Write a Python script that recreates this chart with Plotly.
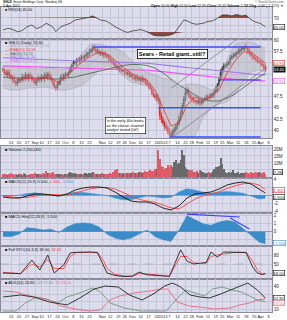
import numpy as np
import pandas as pd
import plotly.graph_objects as go
from plotly.subplots import make_subplots

FONT = "Liberation Sans, Arial, sans-serif"

# ---------------- calendar ----------------
HOLIDAYS = ['2012-09-03', '2012-10-29', '2012-10-30', '2012-11-22', '2012-12-25',
            '2013-01-01', '2013-01-21', '2013-02-18', '2013-03-29']
all_days = [d.strftime('%Y-%m-%d') for d in pd.bdate_range('2012-08-06', '2013-04-12')
            if d.strftime('%Y-%m-%d') not in HOLIDAYS]
pos = {d: i for i, d in enumerate(all_days)}

tick_dates = ['2012-08-13', '2012-08-20', '2012-08-27', '2012-09-04', '2012-09-10', '2012-09-17',
              '2012-09-24', '2012-10-01', '2012-10-08', '2012-10-15', '2012-10-22', '2012-11-05',
              '2012-11-12', '2012-11-19', '2012-11-26', '2012-12-03', '2012-12-10', '2012-12-17',
              '2012-12-24', '2012-12-31', '2013-01-07', '2013-01-14', '2013-01-22', '2013-01-28',
              '2013-02-04', '2013-02-11', '2013-02-19', '2013-02-25', '2013-03-04', '2013-03-11',
              '2013-03-18', '2013-03-25', '2013-04-01', '2013-04-08']
tick_labels = ['13', '20', '27', 'Sep', '10', '17', '24', 'Oct', '8', '15', '22', 'Nov', '12', '19',
               '26', 'Dec', '10', '17', '24', '2013', '7', '14', '22', '28', 'Feb', '11', '19', '25',
               'Mar', '11', '18', '25', 'Apr', '8']

# ---------------- daily price data ----------------
first_open = 53.6
closes = [53.4, 52.8, 52.3, 53.0, 52.2, 51.5, 51.4, 50.7, 50.4, 50.9,
          51.3, 51.1, 51.8, 51.5, 52.3, 51.6, 52.2, 52.0, 51.3, 51.0,
          50.5, 51.1, 51.5, 51.2, 51.9, 51.5, 52.3, 51.7, 52.5, 52.0,
          51.2, 50.6, 49.7, 49.5, 50.3, 50.9, 51.8, 51.5, 52.2, 52.4,
          52.3, 52.9, 53.6, 54.4, 55.0, 55.1, 55.5, 55.4, 55.9, 56.2,
          56.1, 56.5, 56.8, 57.0, 57.5, 57.9, 58.3, 57.9, 57.5, 57.6,
          57.1, 57.3, 56.8, 57.0, 56.6, 56.4, 55.9, 55.6, 55.2, 54.9,
          54.3, 54.1, 53.6, 53.7, 53.2, 53.3, 52.8, 52.6, 52.7, 52.1,
          52.2, 51.7, 51.5, 51.8, 51.3, 51.5, 51.0, 51.4, 51.1, 50.6,
          50.2, 49.8, 49.3, 48.5, 47.9, 47.3, 47.4, 46.6, 43.2, 42.4,
          41.6, 41.0, 40.6, 39.9, 39.3, 38.7, 39.6, 40.2, 40.8, 41.5,
          42.5, 43.8, 45.4, 46.9, 48.4, 48.9, 47.9, 47.3, 47.0, 46.6,
          46.4, 46.2, 46.6, 46.0, 46.3, 46.7, 46.9, 47.1, 47.5, 47.4,
          47.9, 48.0, 48.6, 49.0, 50.1, 51.3, 52.9, 53.7, 54.3, 54.4,
          54.8, 55.1, 56.0, 56.4, 56.6, 57.0, 57.1, 57.5, 57.8, 58.1,
          58.2, 58.6, 58.3, 57.6, 57.2, 56.6, 56.4, 56.0, 55.8, 55.3,
          55.3, 54.8, 54.5, 54.0, 53.4]
highs = [54.1, 53.7, 53.5, 53.4, 53.6, 52.5, 52.0, 52.2, 51.1, 51.5,
         51.8, 51.6, 52.5, 52.2, 52.9, 52.6, 52.7, 53.0, 52.4, 51.9,
         51.5, 51.4, 52.2, 51.9, 52.5, 52.2, 52.8, 53.1, 52.9, 53.1,
         52.5, 51.5, 51.3, 50.1, 50.9, 51.2, 52.3, 52.6, 52.6, 53.0,
         52.9, 53.2, 54.3, 54.8, 55.6, 55.4, 56.0, 56.2, 56.3, 56.8,
         56.7, 56.8, 57.5, 57.4, 58.1, 58.2, 58.8, 59.1, 58.3, 58.2,
         58.1, 57.6, 58.0, 57.4, 57.6, 56.9, 56.9, 56.7, 56.0, 55.8,
         55.4, 54.6, 54.8, 54.1, 54.3, 53.6, 53.8, 53.6, 53.1, 53.3,
         52.7, 52.5, 52.4, 52.2, 52.4, 51.8, 52.0, 52.2, 51.8, 51.7,
         51.1, 50.5, 50.5, 49.7, 49.1, 48.2, 48.2, 48.1, 47.2, 44.0,
         43.1, 42.2, 41.8, 41.2, 40.6, 39.9, 40.3, 40.8, 41.5, 42.1,
         43.2, 44.4, 46.1, 47.6, 49.2, 49.6, 49.3, 48.4, 47.8, 47.5,
         47.1, 46.8, 47.2, 47.0, 46.9, 47.0, 47.4, 47.9, 47.9, 48.1,
         48.4, 48.3, 49.1, 49.8, 50.5, 51.9, 53.6, 54.2, 54.9, 54.8,
         55.3, 55.4, 56.7, 56.8, 57.2, 57.3, 57.6, 58.3, 58.2, 58.7,
         58.7, 58.9, 59.3, 58.7, 58.2, 57.5, 57.1, 56.9, 56.4, 56.4,
         55.8, 55.6, 55.5, 54.9, 54.6]
lows = [53.0, 52.2, 52.0, 51.6, 51.7, 51.1, 50.6, 50.4, 49.8, 49.9,
        50.5, 50.5, 50.8, 50.8, 51.0, 51.2, 50.8, 51.7, 50.7, 50.5,
        50.1, 49.9, 50.8, 50.5, 50.7, 51.1, 50.7, 51.4, 51.1, 51.5,
        50.8, 50.0, 49.4, 48.8, 49.0, 49.9, 50.1, 51.2, 50.9, 51.7,
        51.9, 51.7, 52.6, 52.9, 53.9, 54.6, 54.3, 55.1, 54.8, 55.4,
        55.7, 55.5, 56.2, 56.1, 56.5, 57.1, 57.1, 57.6, 56.9, 57.0,
        56.7, 56.5, 56.5, 56.1, 56.1, 56.0, 55.1, 55.3, 54.6, 54.4,
        53.9, 53.5, 53.3, 52.9, 52.7, 52.9, 52.0, 52.3, 52.0, 51.6,
        51.7, 51.1, 51.2, 50.8, 50.8, 50.9, 50.2, 50.7, 50.5, 50.1,
        49.8, 49.2, 49.0, 47.8, 47.4, 46.9, 46.5, 46.0, 42.3, 41.6,
        41.0, 40.2, 39.9, 39.2, 38.7, 38.4, 38.4, 39.0, 39.6, 40.2,
        41.0, 42.0, 43.3, 44.9, 46.4, 47.8, 47.2, 46.8, 46.4, 46.1,
        45.9, 45.6, 45.8, 45.4, 45.5, 45.8, 46.3, 46.6, 46.4, 46.9,
        47.0, 47.3, 47.2, 48.3, 48.4, 49.6, 50.8, 52.2, 53.2, 53.8,
        53.8, 54.4, 54.4, 55.7, 55.9, 56.2, 56.2, 56.8, 56.9, 57.3,
        57.7, 57.6, 58.0, 56.9, 56.7, 56.2, 55.6, 55.7, 55.2, 54.8,
        54.9, 54.2, 54.2, 53.3, 52.9]
volumes_m = [2.1, 1.8, 2.5, 1.6, 1.9, 2.8, 2.2, 1.7, 2.0, 1.5,
             1.8, 2.3, 1.6, 2.9, 2.0, 1.7, 1.5, 2.2, 1.9, 2.4,
             2.6, 2.0, 1.8, 2.2, 1.7, 3.1, 2.5, 4.2, 3.0, 2.2,
             2.8, 3.3, 2.5, 2.1, 1.9, 2.3, 1.8, 2.0, 1.7, 2.2,
             2.4, 2.9, 3.5, 2.6, 2.2, 2.8, 2.1, 2.5, 1.9, 2.3,
             2.2, 2.6, 3.0, 2.4, 2.8, 3.2, 3.6, 2.9, 2.5, 2.1,
             2.3, 2.0, 2.6, 2.2, 2.4, 1.9, 2.5, 2.8, 2.2, 3.4,
             4.8, 5.6, 3.2, 2.9, 2.5, 3.0, 2.4, 2.7, 3.1, 2.6,
             2.8, 3.5, 2.9, 3.2, 2.6, 3.8, 3.3, 2.9, 3.6, 4.1,
             3.5, 4.6, 5.2, 4.0, 4.4, 5.5, 6.0, 19.0, 12.5, 8.0,
             7.2, 5.8, 6.5, 8.5, 7.0, 8.6, 7.1, 10.4, 11.8, 9.0,
             10.0, 12.0, 19.5, 15.5, 7.2, 6.0, 5.2, 4.8, 5.0, 3.6,
             3.8, 4.5, 3.2, 5.0, 4.2, 3.3, 2.8, 3.0, 2.6, 3.4,
             2.9, 4.0, 5.5, 6.8, 7.0, 8.0, 13.5, 9.0, 5.6, 3.5,
             3.0, 3.4, 2.8, 3.7, 4.8, 3.1, 2.9, 3.6, 2.5, 2.8,
             3.2, 2.6, 3.8, 3.0, 2.4, 3.3, 2.9, 2.6, 3.4, 2.8,
             3.5, 3.0, 2.7, 3.6, 2.2]

# ---------------- overlay / indicator data (sampled every 5 sessions) ----------------
samp_idx = list(range(0, 165, 5)) + [164]
ema_fast = [52.94, 52.06, 51.17, 51.61, 51.39, 51.61, 51.61, 50.50, 52.06, 53.83,
            55.39, 56.50, 57.39, 56.94, 55.61, 54.06, 52.72, 51.83, 51.17, 48.94,
            44.94, 40.94, 41.61, 45.61, 47.39, 46.72, 47.39, 48.94, 52.72, 55.39,
            57.39, 57.39, 56.06, 54.94]
ma50 = [51.83, 51.61, 51.61, 51.61, 51.61, 51.61, 51.39, 51.39, 51.61, 51.83,
        52.28, 52.72, 53.17, 53.61, 54.06, 54.39, 54.61, 54.61, 54.39, 53.83,
        52.72, 51.39, 50.06, 48.94, 47.83, 46.94, 46.50, 46.50, 47.17, 48.06,
        49.39, 50.72, 51.83, 52.72]
ma200 = [56.1, 56.0, 55.9, 55.85, 55.8, 55.7, 55.6, 55.55, 55.5, 55.4,
         55.35, 55.3, 55.25, 55.2, 55.1, 55.05, 55.0, 54.95, 54.9, 54.75,
         54.55, 54.35, 54.15, 53.95, 53.75, 53.55, 53.35, 53.15, 52.95, 52.8,
         52.65, 52.5, 52.35, 52.3]
ema200 = [54.3, 54.25, 54.2, 54.15, 54.1, 54.0, 53.95, 53.9, 53.85, 53.8,
          53.75, 53.7, 53.65, 53.6, 53.55, 53.5, 53.45, 53.4, 53.35, 53.2,
          53.0, 52.8, 52.6, 52.4, 52.2, 52.0, 51.8, 51.65, 51.5, 51.35,
          51.2, 51.1, 51.0, 50.95]
bb_up = [54.28, 54.06, 53.83, 53.83, 53.61, 53.61, 53.83, 53.39, 53.61, 54.94,
         57.39, 59.17, 59.17, 58.72, 58.28, 57.39, 55.61, 54.06, 52.94, 52.28,
         51.61, 51.17, 49.39, 50.28, 50.28, 49.83, 48.94, 49.83, 55.61, 59.17,
         59.61, 59.61, 58.94, 58.28]
bb_lo = [49.39, 48.94, 48.94, 49.39, 49.39, 49.61, 49.39, 48.94, 48.94, 49.39,
         50.06, 51.61, 53.39, 54.28, 53.83, 52.06, 50.72, 50.28, 49.83, 47.83,
         43.39, 37.5, 37.5, 37.5, 38.72, 42.72, 44.94, 45.83, 46.28, 48.06,
         50.72, 52.94, 53.39, 52.94]
macd = [-0.5, -0.75, -0.75, -0.25, 0.25, 0.25, 0.0, -0.25, 0.25, 1.25,
        1.75, 2.0, 2.0, 1.75, 0.75, -0.5, -1.5, -1.75, -1.75, -2.25,
        -3.25, -3.75, -2.75, -0.75, 0.25, 0.5, 0.75, 1.5, 2.5, 3.0,
        3.25, 2.75, 1.5, 0.5]
macd_sig = [-0.2, -0.5, -0.7, -0.6, -0.3, 0.0, 0.1, 0.0, 0.0, 0.5,
            1.1, 1.6, 1.85, 1.9, 1.5, 0.7, -0.3, -1.1, -1.5, -1.8,
            -2.5, -3.2, -3.5, -2.3, -1.0, -0.2, 0.3, 0.8, 1.6, 2.3,
            2.8, 3.0, 2.5, 1.3]
hist2 = [-0.6, -0.6, -0.3, 0.5, 0.4, 0.2, 0.3, -0.1, 0.6, 1.0,
         1.1, 1.0, 0.6, -0.3, -0.8, -1.0, -0.8, -0.3, 0.2, -0.6,
         -1.0, -1.2, 0.2, 2.0, 1.5, 1.0, 0.8, 1.2, 1.4, 1.2,
         0.4, -0.5, -1.3, -1.5]

rsi_idx = [0, 3, 6, 9, 12, 15, 18, 21, 24, 27, 31, 33, 36, 39, 42, 45, 48, 51, 54, 56,
           59, 61, 64, 67, 70, 73, 76, 78, 81, 86, 90, 94, 98, 102, 105, 107, 111, 113, 115, 118,
           121, 125, 128, 131, 134, 137, 140, 143, 146, 149, 152, 154, 157, 161, 164]
rsi = [35.7, 40.5, 37.6, 30.9, 34.0, 45.0, 50.0, 40.0, 45.0, 55.0, 45.0, 31.0, 45.0, 50.0, 55.0,
       64.0, 66.0, 69.0, 72.0, 76.0, 69.0, 64.0, 62.0, 55.0, 45.0, 37.6, 31.0, 29.0, 33.0, 37.0,
       31.0, 21.0, 18.6, 19.5, 22.0, 26.0, 50.0, 64.0, 62.0, 55.0, 52.0, 55.0, 60.0, 62.0, 69.0,
       78.6, 78.6, 76.0, 80.0, 76.0, 78.0, 69.0, 60.0, 54.0, 45.0]

sto_idx = [0, 11, 18, 23, 28, 32, 38, 42, 46, 54, 59, 63, 65, 70, 76, 81, 85, 90, 98, 104,
           111, 115, 119, 123, 127, 130, 134, 138, 145, 152, 156, 159, 162, 164]
sto_k = [20, 18, 63, 30, 80, 20, 47, 87, 89, 90, 88, 40, 20, 12, 8, 10, 23, 14, 10, 9,
         97, 60, 50, 53, 55, 90, 73, 90, 90, 88, 40, 20, 15, 18]
sto_d = [22, 18, 50, 40, 65, 35, 35, 75, 88, 89, 89, 60, 35, 15, 10, 9, 18, 17, 11, 9,
         75, 75, 55, 51, 53, 75, 80, 83, 89, 89, 60, 30, 17, 16]

adx_idx = [0, 11, 19, 29, 40, 48, 57, 64, 72, 79, 87, 95, 101, 106, 111, 117, 123, 129, 136, 145,
           153, 159, 164]
adx = [26.2, 28.8, 26.2, 19.6, 15.6, 24.8, 36.7, 40.7, 39.4, 28.8, 22.2, 31.5, 40.7, 44.7, 39.4,
       28.8, 26.2, 24.8, 30.1, 38.1, 44.7, 35.4, 24.8]
pdi_idx = [0, 8, 14, 21, 27, 34, 40, 48, 56, 61, 67, 76, 86, 95, 102, 108, 114, 120, 126, 131,
           137, 143, 149, 154, 159, 164]
pdi = [7.6, 7.6, 18.2, 26.2, 23.5, 18.2, 26.2, 31.5, 38.1, 32.8, 18.2, 11.6, 7.6, 7.6, 7.6,
       22.2, 35.4, 31.5, 27.5, 36.7, 39.4, 35.4, 32.8, 27.5, 22.2, 19.6]
mdi_idx = [0, 8, 17, 23, 29, 36, 45, 54, 61, 67, 73, 82, 92, 98, 103, 109, 116, 123, 132, 142,
           148, 154, 159, 164]
mdi = [34.1, 32.8, 27.5, 24.8, 22.2, 14.3, 10.3, 7.6, 9.0, 22.2, 27.5, 31.5, 34.1, 36.7, 36.7,
       19.6, 14.3, 12.9, 10.3, 11.6, 15.6, 18.2, 22.2, 23.5]

# analyst drawings
level_prices = [58.5, 51.2, 45.0, 38.5]
level_start = ['2012-10-24', '2013-02-22', '2012-12-26', '2013-01-07']
level_end = '2013-04-01'
chan_lower = (('2013-01-08', 38.2), ('2013-04-05', 54.1))
chan_upper = (('2013-01-08', 49.3), ('2013-03-26', 63.3))
div_lines = [(('2013-01-23', 2.2), ('2013-03-12', 1.84)), (('2013-03-04', 1.71), ('2013-03-20', 0.34))]

# ---------------- figure ----------------
W, H = 287, 320
ML, MR, MT, MB = 1, 15, 7, 8
PW, PH = W - ML - MR, H - MT - MB


def px(x):
    return (x - ML) / PW


def py(y):
    return 1 - (y - MT) / PH


idx = list(range(len(closes)))
opens = [first_open] + closes[:-1]
up = [c >= o for c, o in zip(closes, opens)]

BG = '#dcdcec'
GRID = '#c5c5d8'
BORDER = '#8a8a9a'

fig = make_subplots(rows=7, cols=1, shared_xaxes=True, vertical_spacing=0)

# RSI panel
rsi_arr = np.array(rsi, dtype=float)
fig.add_trace(go.Scatter(x=rsi_idx, y=[70] * len(rsi_idx), mode='lines', line=dict(width=0),
                         hoverinfo='skip'), row=1, col=1)
fig.add_trace(go.Scatter(x=rsi_idx, y=np.maximum(rsi_arr, 70), mode='lines', line=dict(width=0),
                         fill='tonexty', fillcolor='#8a4a40', hoverinfo='skip'), row=1, col=1)
fig.add_trace(go.Scatter(x=rsi_idx, y=[30] * len(rsi_idx), mode='lines', line=dict(width=0),
                         hoverinfo='skip'), row=1, col=1)
fig.add_trace(go.Scatter(x=rsi_idx, y=np.minimum(rsi_arr, 30), mode='lines', line=dict(width=0),
                         fill='tonexty', fillcolor='#8a4a40', hoverinfo='skip'), row=1, col=1)
fig.add_trace(go.Scatter(x=rsi_idx, y=rsi, mode='lines', line=dict(color='#3a3a3a', width=0.8)),
              row=1, col=1)

# Price panel
fig.add_trace(go.Scatter(x=samp_idx, y=bb_up, mode='lines', line=dict(color='#a8a8b4', width=0.6)),
              row=2, col=1)
fig.add_trace(go.Scatter(x=samp_idx, y=bb_lo, mode='lines', line=dict(color='#a8a8b4', width=0.6),
                         fill='tonexty', fillcolor='rgba(175,178,185,0.45)'), row=2, col=1)
fig.add_trace(go.Scatter(x=samp_idx, y=ma200, mode='lines', line=dict(color='#a078e0', width=1.1)),
              row=2, col=1)
fig.add_trace(go.Scatter(x=samp_idx, y=ema200, mode='lines', line=dict(color='#f050f0', width=1.1)),
              row=2, col=1)
fig.add_trace(go.Scatter(x=samp_idx, y=ma50, mode='lines', line=dict(color='#4a5a4a', width=0.8)),
              row=2, col=1)
for lp, ls in zip(level_prices, level_start):
    fig.add_trace(go.Scatter(x=[pos[ls], pos[level_end]], y=[lp, lp], mode='lines',
                             line=dict(color='#3a4cff', width=1.4)), row=2, col=1)
for ch in (chan_lower, chan_upper):
    fig.add_trace(go.Scatter(x=[pos[ch[0][0]], pos[ch[1][0]]], y=[ch[0][1], ch[1][1]], mode='lines',
                             line=dict(color='#7a7a7a', width=0.7)), row=2, col=1)
fig.add_trace(go.Scatter(x=samp_idx, y=ema_fast, mode='lines', line=dict(color='#e83030', width=0.8)),
              row=2, col=1)
fig.add_trace(go.Candlestick(x=idx, open=opens, high=highs, low=lows, close=closes,
                             increasing=dict(line=dict(color='#202020', width=0.8), fillcolor='#f4f4f4'),
                             decreasing=dict(line=dict(color='#e01818', width=0.8), fillcolor='#e01818'),
                             whiskerwidth=0), row=2, col=1)

# Volume
vcol = ['#6a6a6a' if u else '#e05a68' for u in up]
fig.add_trace(go.Bar(x=idx, y=volumes_m, marker=dict(color=vcol, line=dict(width=0)), width=0.75),
              row=3, col=1)

# MACD
macd_hist = (np.array(macd) - np.array(macd_sig)).tolist()
fig.add_trace(go.Scatter(x=samp_idx, y=macd_hist, mode='lines', line=dict(color='#3f8fd0', width=0.5),
                         fill='tozeroy', fillcolor='#3f8fd0'), row=4, col=1)
fig.add_trace(go.Scatter(x=samp_idx, y=macd_sig, mode='lines', line=dict(color='#ff4040', width=0.9)),
              row=4, col=1)
fig.add_trace(go.Scatter(x=samp_idx, y=macd, mode='lines', line=dict(color='#111111', width=0.9)),
              row=4, col=1)

# Histogram panel
fig.add_trace(go.Scatter(x=samp_idx, y=hist2, mode='lines', line=dict(color='#2f82c2', width=0.5),
                         fill='tozeroy', fillcolor='#3a8cc8'), row=5, col=1)
for (a, b) in div_lines:
    fig.add_trace(go.Scatter(x=[pos[a[0]], pos[b[0]]], y=[a[1], b[1]], mode='lines',
                             line=dict(color='#3a40ff', width=1.1)), row=5, col=1)

# Stochastics
fig.add_trace(go.Scatter(x=sto_idx, y=sto_d, mode='lines', line=dict(color='#ff4a4a', width=0.9)),
              row=6, col=1)
fig.add_trace(go.Scatter(x=sto_idx, y=sto_k, mode='lines', line=dict(color='#222222', width=0.9)),
              row=6, col=1)

# ADX / DMI
fig.add_trace(go.Scatter(x=pdi_idx, y=pdi, mode='lines', line=dict(color='#6a9a78', width=0.9)),
              row=7, col=1)
fig.add_trace(go.Scatter(x=mdi_idx, y=mdi, mode='lines', line=dict(color='#e06a78', width=0.9)),
              row=7, col=1)
fig.add_trace(go.Scatter(x=adx_idx, y=adx, mode='lines', line=dict(color='#222222', width=0.9)),
              row=7, col=1)

# ---------------- axes ----------------
panels_px = [(7, 39), (39, 138), (146, 178), (178, 213), (213, 246), (246, 279), (279, 312)]
y_ranges = [[10, 101.4], [38.28, 60.28], [-0.71, 22.1], [-4.5, 4.25], [-1.79, 2.34], [0, 110], [6.3, 50]]
y_ticks = [([30, 50, 70], ['', '', '70']),
           ([40, 42.5, 45, 47.5, 50, 52.5, 55, 57.5, 60],
            ['40', '42.5', '45', '47.5', '', '', '', '57.5', '60']),
           ([5, 10, 15, 20], ['', '10M', '15M', '20M']),
           ([-4, -2, 0, 2, 4], ['-4', '-2', '', '', '4']),
           ([-1, 0, 1, 2], ['', '0', '1', '2']),
           ([20, 50, 80], ['', '50', '80']),
           ([10, 20, 30, 40], ['10', '', '', '40'])]
tick_idx = [pos[d] for d in tick_dates]
for k, ((t, b), rng, (tv, tt)) in enumerate(zip(panels_px, y_ranges, y_ticks), start=1):
    sfx = '' if k == 1 else str(k)
    fig.layout['yaxis' + sfx].update(domain=[py(b), py(t)], range=rng, side='right', tickvals=tv,
                                     ticktext=tt, tickfont=dict(size=4.5, color='#222', family=FONT),
                                     showgrid=True, gridcolor=GRID, gridwidth=0.5, zeroline=False,
                                     showline=True, mirror=True, linecolor=BORDER, linewidth=0.6,
                                     ticks='', fixedrange=True)
    fig.layout['xaxis' + sfx].update(range=[-1.25, 168.125], tickvals=tick_idx, ticktext=tick_labels,
                                     showgrid=True, gridcolor=GRID, gridwidth=0.5, zeroline=False,
                                     showline=True, mirror=True, linecolor=BORDER, linewidth=0.6,
                                     ticks='', tickangle=0, rangeslider=dict(visible=False),
                                     tickfont=dict(size=4, color='#222', family=FONT),
                                     showticklabels=(k in (2, 7)))
fig.layout['yaxis5'].update(zeroline=True, zerolinecolor='#9a9aaa', zerolinewidth=0.6)
fig.layout['yaxis4'].update(zeroline=True, zerolinecolor='#9a9aaa', zerolinewidth=0.6)
fig.add_hline(y=50, line=dict(color='#9a9aaa', width=0.6, dash='dash'), row=6, col=1)

# ---------------- text ----------------
ann = []


def txt(xp, yp, s, size=4.5, color='#111', xa='left', **kw):
    ann.append(dict(x=px(xp), y=py(yp), xref='paper', yref='paper', text=s, showarrow=False,
                    xanchor=xa, yanchor='middle', font=dict(size=size, color=color, family=FONT), **kw))


txt(1, 1.9, '<b>SHLD</b> Sears Holdings Corp  Nasdaq GS', 3.3)
txt(1, 6.0, '4-Apr-2013', 3.3)
txt(286, 1.9, '© StockCharts.com', 3.3, '#555', xa='right')
txt(286, 6.0, '<b>Open</b> 54.00 <b>High</b> 54.60 <b>Low</b> 52.90 <b>Close</b> 53.40 <b>Volume</b> 2.2M '
              '<b>Chg</b> -0.60 (-1.11%) <span style="color:#e00">▼</span>', 3.5, xa='right')
txt(3, 10.3, '<span style="color:#333">■</span> RSI(14) 45.00', 3.8)
txt(3, 43, '■ SHLD (Daily) 53.40', 4)
txt(3, 46.5, '<span style="color:#a0a0b0">— BB(20,2.0) 58.28 52.94</span>', 3.8)
txt(3, 50, '<span style="color:#e83030">— EMA(10) 54.94</span>', 3.8)
txt(3, 53.5, '<span style="color:#4a5a4a">— MA(50) 52.72</span>', 3.8)
txt(3, 57, '<span style="color:#a078e0">— MA(200) 52.30</span>', 3.8)
txt(3, 60.5, '<span style="color:#f050f0">— EMA(200) 50.95</span>', 3.8)
txt(3, 149, '■ Volume 2,200,000', 4)
txt(3, 181, '■ MACD(12,26,9) <span style="color:#111">0.500</span>, <span style="color:#e33">1.300</span>, '
            '<span style="color:#3f8fd0">-0.800</span>', 4)
txt(3, 216, '■ MACD-Hist(12,26,9) -1.500', 4)
txt(3, 249, '■ Full STO(14,3,3) 18.00, <span style="color:#e33">16.00</span>', 4)
txt(3, 282.5, '■ ADX(14) 24.80 <span style="color:#6a9a78">+DI 19.60</span> '
              '<span style="color:#e06a78">-DI 23.50</span>', 4)

txt(172.5, 53.5, '<b>Sears - Retail giant..still?</b>', 5.6, '#000', xa='center',
    bgcolor='#ffffff', bordercolor='#000', borderwidth=0.8, borderpad=1)
txt(125, 125, 'In the early 40s levels,<br>as the classic channel<br>analyst tested (lol!)', 3.8, '#000',
    xa='center', bgcolor='#ffffff', bordercolor='#000', borderwidth=0.6, borderpad=1, align='left')

# right-axis value boxes
txt(273, 62.8, '54.94', 4, '#e83030', bgcolor='#fff', bordercolor='#e83030', borderwidth=0.6, borderpad=0)
txt(273, 69.9, '53.40', 4, '#fff', bgcolor='#111', borderpad=0)
txt(273, 81, '50.95', 4, '#f050f0', bgcolor='#fff', bordercolor='#f050f0', borderwidth=0.6, borderpad=0)
txt(273, 27, '45.00', 4, '#111', bgcolor='#fff', bordercolor='#111', borderwidth=0.6, borderpad=0)
txt(273, 172, '2.2M', 4, '#111', bgcolor='#fff', bordercolor='#111', borderwidth=0.6, borderpad=0)
txt(273, 190, '1.300', 4, '#e33', bgcolor='#fff', bordercolor='#e33', borderwidth=0.6, borderpad=0)
txt(273, 196.5, '0.500', 4, '#111', bgcolor='#fff', bordercolor='#111', borderwidth=0.6, borderpad=0)
txt(273, 243, '-1.500', 4, '#3f8fd0', bgcolor='#fff', bordercolor='#3f8fd0', borderwidth=0.6, borderpad=0)
txt(273, 273, '18.00', 4, '#111', bgcolor='#fff', bordercolor='#111', borderwidth=0.6, borderpad=0)
txt(273, 298, '24.80', 4, '#111', bgcolor='#fff', bordercolor='#111', borderwidth=0.6, borderpad=0)
txt(273, 303, '23.50', 4, '#e06a78', bgcolor='#fff', bordercolor='#e06a78', borderwidth=0.6, borderpad=0)

fig.update_layout(width=W, height=H, margin=dict(l=ML, r=MR, t=MT, b=MB), showlegend=False,
                  paper_bgcolor='#ffffff', plot_bgcolor=BG, annotations=ann, hovermode=False,
                  bargap=0, font=dict(family=FONT, size=5))
fig.write_html("out.html")
